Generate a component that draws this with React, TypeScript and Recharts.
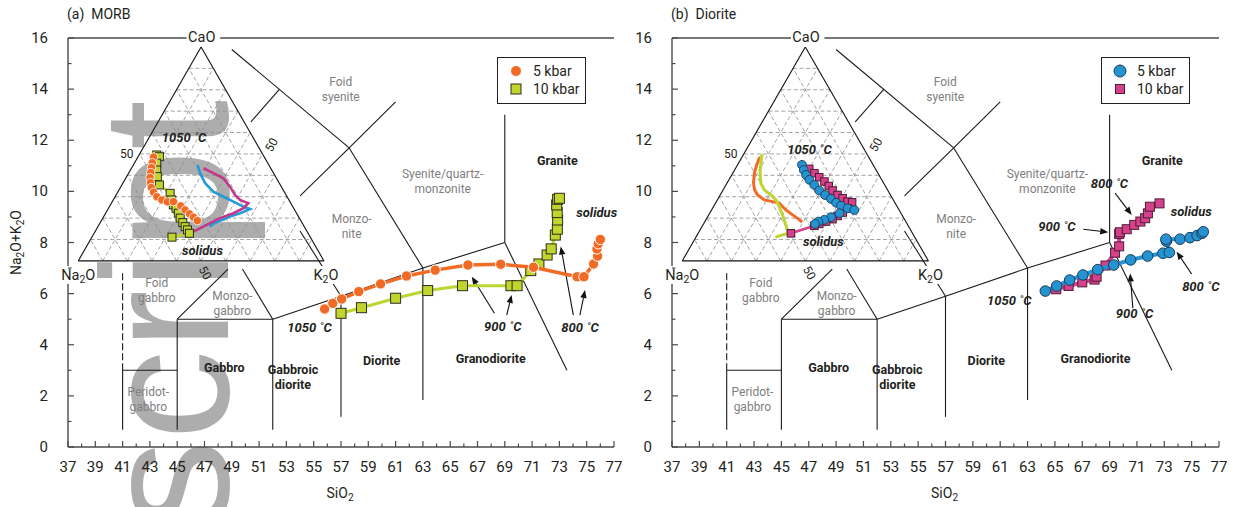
import React from "react";
import { ScatterChart, Scatter, XAxis, YAxis, ReferenceLine, ReferenceDot, Legend } from "recharts";

// ---------------- tick labels ----------------
const xTickLabels = [37, 39, 41, 43, 45, 47, 49, 51, 53, 55, 57, 59, 61, 63, 65, 67, 69, 71, 73, 75, 77];
const xMinorTicks = [38, 40, 42, 44, 46, 48, 50, 52, 54, 56, 58, 60, 62, 64, 66, 68, 70, 72, 74, 76];
const yTickLabels = [0, 2, 4, 6, 8, 10, 12, 14, 16];
const yMinorTicks = [1, 3, 5, 7, 9, 11, 13, 15];
const ternaryLevels = [10, 20, 30, 40, 50, 60, 70, 80, 90];

// ---------------- TAS (SiO2, Na2O+K2O) series ----------------
const morb5kbar = [
  { x: 55.8, y: 5.4 }, { x: 56.4, y: 5.62 }, { x: 57.05, y: 5.79 }, { x: 58.3, y: 6.08 },
  { x: 59.9, y: 6.38 }, { x: 61.8, y: 6.69 }, { x: 63.9, y: 6.92 }, { x: 66.3, y: 7.12 },
  { x: 68.7, y: 7.15 }, { x: 71.1, y: 7.03 }, { x: 74.3, y: 6.66 }, { x: 74.8, y: 6.66 },
  { x: 75.5, y: 7.16 }, { x: 75.8, y: 7.47 }, { x: 75.75, y: 7.75 }, { x: 75.85, y: 7.95 },
  { x: 76.0, y: 8.12 },
];
const morb10kbar = [
  { x: 57.0, y: 5.23 }, { x: 58.5, y: 5.45 }, { x: 61.0, y: 5.82 }, { x: 63.35, y: 6.12 },
  { x: 65.9, y: 6.31 }, { x: 69.45, y: 6.31 }, { x: 69.9, y: 6.31 }, { x: 70.9, y: 6.9 },
  { x: 71.5, y: 7.16 }, { x: 72.1, y: 7.51 }, { x: 72.4, y: 7.75 }, { x: 72.7, y: 8.29 },
  { x: 72.85, y: 8.52 }, { x: 72.87, y: 8.88 }, { x: 72.84, y: 9.17 }, { x: 72.8, y: 9.47 },
  { x: 72.87, y: 9.69 }, { x: 73.0, y: 9.73 },
];
const diorite5kbar = [
  { x: 64.3, y: 6.1 }, { x: 65.13, y: 6.3 }, { x: 66.08, y: 6.53 }, { x: 67.05, y: 6.73 },
  { x: 68.13, y: 6.94 }, { x: 69.3, y: 7.12 }, { x: 70.54, y: 7.32 }, { x: 71.78, y: 7.47 },
  { x: 72.9, y: 7.58 }, { x: 73.37, y: 7.61 }, { x: 73.15, y: 8.05 }, { x: 73.12, y: 8.13 },
  { x: 74.15, y: 8.13 }, { x: 74.88, y: 8.19 }, { x: 75.4, y: 8.27 }, { x: 75.76, y: 8.36 },
  { x: 75.85, y: 8.42 },
];
const diorite10kbar = [
  { x: 65.1, y: 6.17 }, { x: 66.0, y: 6.3 }, { x: 67.0, y: 6.44 }, { x: 67.9, y: 6.55 },
  { x: 68.05, y: 6.66 }, { x: 68.7, y: 7.1 }, { x: 69.4, y: 7.6 }, { x: 69.7, y: 7.85 },
  { x: 69.7, y: 8.33 }, { x: 69.75, y: 8.4 }, { x: 70.25, y: 8.52 }, { x: 70.8, y: 8.69 },
  { x: 71.25, y: 8.82 }, { x: 71.6, y: 8.95 }, { x: 71.8, y: 9.14 }, { x: 71.95, y: 9.4 },
  { x: 72.65, y: 9.53 },
];

// ---------------- ternary series: [CaO %, K2O %] ----------------
const morb5kbarTern = [
  [48.5, 6.4], [45.9, 7.2], [43.6, 8.0], [41.3, 8.9], [38.9, 9.8], [36.6, 11.1], [34.3, 12.6],
  [32.1, 14.6], [30.0, 17.0], [28.5, 19.8], [27.6, 22.5], [27.7, 24.9], [25.7, 28.9],
  [23.8, 31.6], [22.0, 34.3], [20.4, 36.7], [18.8, 39.1],
];
const morb10kbarTern = [
  [49.5, 7.2], [48.7, 8.7], [45.7, 9.1], [42.5, 10.7], [39.4, 12.5], [35.5, 15.3], [31.6, 21.6],
  [28.5, 23.8], [26.2, 25.6], [24.6, 27.5], [22.3, 29.6], [20.0, 31.5], [17.9, 33.6],
  [16.0, 35.5], [14.5, 37.2], [12.9, 38.8], [11.1, 32.6],
];
const diorite5kbarTern = [
  [44.9, 26.2], [42.5, 28.1], [40.2, 30.2], [37.9, 32.7], [35.5, 35.9], [32.9, 39.2],
  [30.8, 42.6], [29.0, 45.9], [27.2, 48.9], [25.8, 51.6], [24.6, 54.9], [23.8, 58.0],
  [22.3, 52.7], [20.4, 50.2], [19.2, 48.1], [18.4, 46.1], [17.3, 45.3],
];
const diorite10kbarTern = [
  [43.0, 30.1], [41.0, 33.2], [39.1, 36.1], [37.1, 39.2], [35.0, 42.0], [32.9, 44.6],
  [30.8, 47.7], [29.3, 50.5], [27.7, 53.3], [27.4, 55.3], [24.6, 54.9], [22.6, 53.9],
  [21.0, 52.6], [19.5, 51.3], [18.4, 49.2], [17.3, 47.0], [16.4, 45.5], [12.9, 37.7],
];
// comparison paths drawn as lines in the other panel's inset
const dioriteLine5Tern = [
  [44.9, 26.1], [41.0, 29.1], [36.3, 33.5], [32.4, 38.8], [30.0, 44.1], [27.7, 49.3],
  [25.4, 54.5], [24.2, 57.8], [22.3, 54.7], [20.7, 51.4], [18.8, 48.3], [17.3, 46.3], [16.0, 45.4],
];
const dioriteLine10Tern = [
  [43.3, 29.3], [41.0, 34.5], [38.6, 39.8], [34.7, 44.4], [30.8, 48.4], [28.5, 51.6],
  [27.0, 55.7], [24.6, 54.9], [22.3, 52.0], [20.0, 47.7], [16.8, 43.9], [13.7, 40.0], [12.9, 39.1],
];
const morbLine5Tern = [
  [48.7, 7.2], [44.9, 7.8], [41.0, 8.8], [36.3, 10.8], [33.2, 12.8], [30.8, 15.2], [28.5, 19.1],
  [27.7, 22.8], [27.0, 25.9], [23.8, 30.2], [21.5, 34.1], [19.2, 38.0], [18.1, 39.6],
];
const morbLine10Tern = [
  [50.0, 7.4], [45.7, 9.1], [41.0, 11.1], [36.3, 13.8], [33.2, 16.7], [30.8, 20.6],
  [28.5, 23.8], [25.4, 26.7], [21.5, 30.0], [16.8, 33.7], [12.9, 36.6], [11.1, 32.3],
];

// ---------------- TAS classification boundaries ----------------
const tasSolid = [
  [[41, 0.67], [41, 3]], [[41, 3], [45, 3]], [[45, 0.67], [45, 5]], [[45, 5], [52, 5]],
  [[52, 0.67], [52, 5]], [[45, 5], [48.72, 6.96]], [[52, 5], [49.78, 6.96]],
  [[52, 5], [57, 5.9]], [[57, 5.9], [63, 7]], [[63, 7], [69, 8]],
  [[57, 1.18], [57, 5.9]], [[63, 1.84], [63, 7]], [[54.0, 8.45], [57, 5.9]],
  [[54.0, 9.82], [57.6, 11.7]], [[50.4, 12.72], [52.5, 14]], [[49.0, 15.55], [57.6, 11.7]],
  [[57.6, 11.7], [63, 7]], [[57.6, 11.7], [61, 13.5]], [[69, 8], [69, 13]], [[69, 8], [73.55, 3.0]],
];
const tasDashed = [[[41, 3], [41, 6.9]]];

const fieldLabels = [
  { x: 56.98, y: 14.0, lines: ["Foid", "syenite"], bold: false },
  { x: 64.45, y: 10.4, lines: ["Syenite/quartz-", "monzonite"], bold: false },
  { x: 57.78, y: 8.62, lines: ["Monzo-", "nite"], bold: false },
  { x: 72.85, y: 11.23, lines: ["Granite"], bold: true },
  { x: 43.5, y: 6.11, lines: ["Foid", "gabbro"], bold: false },
  { x: 49.04, y: 5.6, lines: ["Monzo-", "gabbro"], bold: false },
  { x: 48.45, y: 3.12, lines: ["Gabbro"], bold: true },
  { x: 53.48, y: 2.74, lines: ["Gabbroic", "diorite"], bold: true },
  { x: 42.88, y: 1.86, lines: ["Peridot-", "gabbro"], bold: false },
  { x: 59.98, y: 3.4, lines: ["Diorite"], bold: true },
  { x: 67.97, y: 3.47, lines: ["Granodiorite"], bold: true },
];

const morbNotes = [
  { x: 45.5, y: 12.13, t: "1050 ˚C" }, { x: 46.85, y: 7.71, t: "solidus" },
  { x: 54.69, y: 4.69, t: "1050 ˚C" }, { x: 68.85, y: 4.73, t: "900 ˚C" },
  { x: 74.51, y: 4.69, t: "800 ˚C" }, { x: 75.73, y: 9.21, t: "solidus" },
];
const morbArrows = [
  [[68.24, 5.23], [66.58, 6.66]], [[69.14, 5.16], [69.5, 5.95]],
  [[74.02, 5.16], [73.1, 7.84]], [[74.5, 5.16], [74.88, 6.14]],
];
const dioriteNotes = [
  { x: 47.05, y: 11.66, t: "1050 ˚C" }, { x: 48.07, y: 8.07, t: "solidus" },
  { x: 68.99, y: 10.32, t: "800 ˚C" }, { x: 65.15, y: 8.65, t: "900 ˚C" },
  { x: 74.97, y: 9.24, t: "solidus" }, { x: 61.66, y: 5.75, t: "1050 ˚C" },
  { x: 70.82, y: 5.23, t: "900 ˚C" }, { x: 75.67, y: 6.3, t: "800 ˚C" },
];
const dioriteArrows = [
  [[69.4, 9.93], [70.62, 9.08]], [[67.08, 8.52], [68.9, 8.4]],
  [[70.7, 5.43], [70.5, 6.79]], [[75.0, 6.77], [73.9, 7.64]],
];

// ---------------- layout / style ----------------
const FONT = "Roboto, 'Noto Sans', sans-serif";
const AX = "#4a4a4a";
const TXT = "#231f20";
const GRAY = "#808080";
const ORANGE = "#f26b25";
const LIME = "#c2d52f";
const BLUE = "#2592d1";
const PINK = "#d6418b";
// inset triangle corners in chart coordinates
const TL = { x: 37.75, y: 7.28 };
const TR = { x: 55.75, y: 7.28 };
const TA = { x: 46.75, y: 15.65 };

const tern = (ca: number, k: number) => {
  const c = ca / 100, kk = k / 100, na = 1 - c - kk;
  return { x: TL.x * na + TA.x * c + TR.x * kk, y: TL.y * na + TA.y * c + TR.y * kk };
};
const ternPts = (arr: number[][]) => arr.map(([c, k]) => tern(c, k));

const gridSegs: { x: number; y: number }[][] = [];
ternaryLevels.forEach((l) => {
  gridSegs.push([tern(l, 0), tern(l, 100 - l)]);
  gridSegs.push([tern(0, l), tern(100 - l, l)]);
  gridSegs.push([tern(0, 100 - l), tern(100 - l, 0)]);
});

const allX = [...xTickLabels, ...xMinorTicks].sort((a, b) => a - b);
const allY = [...yTickLabels, ...yMinorTicks].sort((a, b) => a - b);

const BottomTick = (p: any) => {
  const v = p.payload.value;
  const major = xTickLabels.includes(v);
  return (
    <g>
      <line x1={p.x} x2={p.x} y1={p.y} y2={p.y - (major ? 6 : 3.5)} stroke={AX} strokeWidth={1.2} />
      {major && (
        <text x={p.x} y={p.y + 20} textAnchor="middle" dominantBaseline="central" fontFamily={FONT} fontSize={15} fill={TXT}>
          {v}
        </text>
      )}
    </g>
  );
};
const TopTick = (p: any) => {
  const v = p.payload.value;
  const major = xTickLabels.includes(v);
  return <line x1={p.x} x2={p.x} y1={p.y} y2={p.y + (major ? 6 : 3.5)} stroke={AX} strokeWidth={1.2} />;
};
const LeftTick = (p: any) => {
  const v = p.payload.value;
  const major = yTickLabels.includes(v);
  return (
    <g>
      <line x1={p.x} x2={p.x + (major ? 6 : 3.5)} y1={p.y} y2={p.y} stroke={AX} strokeWidth={1.2} />
      {major && (
        <text x={p.x - 20} y={p.y} textAnchor="end" dominantBaseline="central" fontFamily={FONT} fontSize={15} fill={TXT}>
          {v}
        </text>
      )}
    </g>
  );
};
const RightTick = (p: any) => {
  const v = p.payload.value;
  const major = yTickLabels.includes(v);
  return <line x1={p.x} x2={p.x - (major ? 6 : 3.5)} y1={p.y} y2={p.y} stroke={AX} strokeWidth={1.2} />;
};

const circleShape = (r: number, fill: string, stroke: string, sw: number) => (p: any) =>
  <circle cx={p.cx} cy={p.cy} r={r} fill={fill} stroke={stroke} strokeWidth={sw} />;
const squareShape = (s: number, fill: string, stroke: string) => (p: any) =>
  <rect x={p.cx - s / 2} y={p.cy - s / 2} width={s} height={s} fill={fill} stroke={stroke} strokeWidth={1} />;
const noShape = () => <g />;

const arrowShape = (p: any) => {
  const { x1, y1, x2, y2 } = p;
  const dx = x2 - x1, dy = y2 - y1, len = Math.hypot(dx, dy) || 1;
  const ux = dx / len, uy = dy / len, hl = 8, hw = 3.2;
  const bx = x2 - ux * hl, by = y2 - uy * hl;
  return (
    <g>
      <line x1={x1} y1={y1} x2={bx} y2={by} stroke="#111" strokeWidth={1.1} />
      <polygon points={`${x2},${y2} ${bx - uy * hw},${by + ux * hw} ${bx + uy * hw},${by - ux * hw}`} fill="#111" />
    </g>
  );
};

const textShape = (lines: string[], o: any) => (p: any) => {
  const lh = o.lh || 15;
  const start = -((lines.length - 1) / 2) * lh;
  return (
    <text x={p.cx} y={p.cy} textAnchor={o.anchor || "middle"} dominantBaseline="central" fontFamily={FONT}
      fontSize={o.size || 12} fontWeight={o.bold ? 700 : 400} fontStyle={o.italic ? "italic" : "normal"}
      fill={o.fill || TXT} transform={o.rot ? `rotate(${o.rot} ${p.cx} ${p.cy})` : undefined}>
      {lines.map((l, i) => (
        <tspan key={i} x={p.cx} dy={i === 0 ? start : lh}>{l}</tspan>
      ))}
    </text>
  );
};

const subLabel = (parts: [string, boolean][], o: any) => (p: any) => {
  const w = o.w || 0;
  return (
    <g transform={o.rot ? `rotate(${o.rot} ${p.cx} ${p.cy})` : undefined}>
      {o.bg && <rect x={p.cx - w / 2} y={p.cy - 9} width={w} height={18} fill="#fff" />}
      <text x={p.cx} y={p.cy} textAnchor="middle" dominantBaseline="central" fontFamily={FONT} fontSize={o.size || 14} fill={TXT}>
        {parts.map(([s, sub], i) => (
          <tspan key={i} fontSize={sub ? (o.size || 14) * 0.72 : undefined} dy={sub ? 4 : i > 0 && parts[i - 1][1] ? -4 : 0}>{s}</tspan>
        ))}
      </text>
    </g>
  );
};

type PanelProps = {
  left: number; width: number; marginRight: number; title: string; yLabel: boolean;
  main10: any[]; main5: any[]; tern10: any[]; tern5: any[]; cmpA: any[]; cmpB: any[];
  kind: "morb" | "diorite"; notes: any[]; arrows: number[][][];
};

function LegendBox({ kind }: { kind: "morb" | "diorite" }) {
  const isM = kind === "morb";
  return (
    <div style={{ position: "relative", width: 89, height: 47, border: `1.3px solid ${TXT}`, boxSizing: "border-box", background: "#fff", fontFamily: FONT, fontSize: 14, color: TXT }}>
      <svg width={30} height={45} style={{ position: "absolute", left: 0, top: 0 }}>
        {isM ? <circle cx={18} cy={13} r={5.5} fill={ORANGE} stroke="#fff" strokeWidth={1} /> : <circle cx={18} cy={13} r={6} fill={BLUE} stroke="#1d3b57" strokeWidth={1} />}
        {isM ? <rect x={13} y={26} width={10} height={10} fill={LIME} stroke="#2d2d1a" strokeWidth={1} /> : <rect x={13.5} y={26.5} width={9} height={9} fill={PINK} stroke="#4b1d35" strokeWidth={1} />}
      </svg>
      <div style={{ position: "absolute", left: 35, top: 4, lineHeight: "18px", whiteSpace: "nowrap" }}>5 kbar</div>
      <div style={{ position: "absolute", left: 35, top: 22, lineHeight: "18px", whiteSpace: "nowrap" }}>10 kbar</div>
    </div>
  );
}

function Panel(pp: PanelProps) {
  const isM = pp.kind === "morb";
  const c5 = isM ? ORANGE : BLUE;
  const c10 = isM ? LIME : PINK;
  const s5 = isM ? circleShape(5.2, ORANGE, "#fff", 1) : circleShape(5.3, BLUE, "#1d3b57", 1);
  const s10 = isM ? squareShape(10, LIME, "#2d2d1a") : squareShape(9, PINK, "#4b1d35");
  const t5 = isM ? circleShape(4.2, ORANGE, "#fff", 0.8) : circleShape(4.4, BLUE, "#1d3b57", 0.9);
  const t10 = isM ? squareShape(8, LIME, "#2d2d1a") : squareShape(7.5, PINK, "#4b1d35");
  const cmpAcol = isM ? "#259ad8" : ORANGE;
  const cmpBcol = isM ? "#c2378a" : "#bcd531";
  return (
    <div style={{ position: "absolute", left: pp.left, top: 0 }}>
      <ScatterChart width={pp.width} height={507} margin={{ top: 38, right: pp.marginRight, bottom: 0, left: 0 }}>
        <XAxis xAxisId={0} type="number" dataKey="x" domain={[37, 77]} ticks={allX} interval={0} tickSize={0} tickMargin={0}
          height={60} tick={BottomTick} tickLine={false} axisLine={{ stroke: AX, strokeWidth: 1.4 }} />
        <XAxis xAxisId="t" orientation="top" type="number" domain={[37, 77]} ticks={allX} interval={0} tickSize={0} tickMargin={0}
          height={0} tick={TopTick} tickLine={false} axisLine={false} />
        <YAxis yAxisId={0} type="number" dataKey="y" domain={[0, 16]} ticks={allY} interval={0} tickSize={0} tickMargin={0}
          width={68} tick={LeftTick} tickLine={false} axisLine={{ stroke: AX, strokeWidth: 1.4 }} />
        <YAxis yAxisId="r" orientation="right" type="number" domain={[0, 16]} ticks={allY} interval={0} tickSize={0} tickMargin={0}
          width={0} tick={RightTick} tickLine={false} axisLine={{ stroke: AX, strokeWidth: 1.4 }} />

        {/* top border, broken for CaO label */}
        <ReferenceLine segment={[{ x: 37, y: 16 }, { x: 45.7, y: 16 }]} stroke={AX} strokeWidth={1.4} ifOverflow="visible" />
        <ReferenceLine segment={[{ x: 48.15, y: 16 }, { x: 77, y: 16 }]} stroke={AX} strokeWidth={1.4} ifOverflow="visible" />

        {tasSolid.map((s, i) => (
          <ReferenceLine key={"tas" + i} segment={[{ x: s[0][0], y: s[0][1] }, { x: s[1][0], y: s[1][1] }]} stroke="#1a1a1a" strokeWidth={1.1} ifOverflow="visible" />
        ))}
        {tasDashed.map((s, i) => (
          <ReferenceLine key={"tasd" + i} segment={[{ x: s[0][0], y: s[0][1] }, { x: s[1][0], y: s[1][1] }]} stroke="#1a1a1a" strokeWidth={1.1} strokeDasharray="7 3" ifOverflow="visible" />
        ))}

        {gridSegs.map((s, i) => (
          <ReferenceLine key={"g" + i} segment={s} stroke="#8c8c8c" strokeWidth={0.8} strokeDasharray="4 2.5" ifOverflow="visible" />
        ))}
        <ReferenceLine segment={[TL, TR]} stroke="#111" strokeWidth={1.1} ifOverflow="visible" />
        <ReferenceLine segment={[TL, TA]} stroke="#111" strokeWidth={1.1} ifOverflow="visible" />
        <ReferenceLine segment={[TA, TR]} stroke="#111" strokeWidth={1.1} ifOverflow="visible" />

        {fieldLabels.map((f, i) => (
          <ReferenceDot key={"f" + i} x={f.x} y={f.y} r={0} ifOverflow="visible"
            shape={textShape(f.lines, { size: f.bold ? 12.5 : 12, bold: f.bold, fill: f.bold ? TXT : GRAY })} />
        ))}

        {/* inset comparison paths */}
        <Scatter data={ternPts(pp.cmpA)} isAnimationActive={false} line={{ stroke: cmpAcol, strokeWidth: isM ? 2.6 : 3 }} shape={noShape} />
        <Scatter data={ternPts(pp.cmpB)} isAnimationActive={false} line={{ stroke: cmpBcol, strokeWidth: isM ? 2.6 : 3 }} shape={noShape} />
        {/* inset own results */}
        <Scatter data={ternPts(pp.tern10)} isAnimationActive={false} line={{ stroke: c10, strokeWidth: 2.5 }} shape={t10} />
        <Scatter data={ternPts(pp.tern5)} isAnimationActive={false} line={{ stroke: c5, strokeWidth: 2.5 }} shape={t5} />
        {/* TAS results */}
        <Scatter data={pp.main10} isAnimationActive={false} line={{ stroke: isM ? "#bcd531" : PINK, strokeWidth: isM ? 3 : 4 }} shape={s10} />
        <Scatter data={pp.main5} isAnimationActive={false} line={{ stroke: c5, strokeWidth: isM ? 3.5 : 4 }} shape={s5} />

        {/* inset labels */}
        <ReferenceDot x={46.8} y={16.05} r={0} ifOverflow="visible" shape={subLabel([["CaO", false]], { size: 14.5, bg: true, w: 30 })} />
        <ReferenceDot x={37.75} y={6.73} r={0} ifOverflow="visible" shape={subLabel([["Na", false], ["2", true], ["O", false]], { size: 14.5, bg: true, w: 36 })} />
        <ReferenceDot x={55.9} y={6.73} r={0} ifOverflow="visible" shape={subLabel([["K", false], ["2", true], ["O", false]], { size: 14.5, bg: true, w: 28 })} />
        <ReferenceDot x={41.3} y={11.46} r={0} ifOverflow="visible" shape={textShape(["50"], { size: 12 })} />
        <ReferenceDot x={51.92} y={11.82} r={0} ifOverflow="visible" shape={textShape(["50"], { size: 12, rot: -60 })} />
        <ReferenceDot x={47.04} y={6.81} r={0} ifOverflow="visible" shape={textShape(["50"], { size: 12, rot: 60 })} />

        {pp.notes.map((n, i) => (
          <ReferenceDot key={"n" + i} x={n.x} y={n.y} r={0} ifOverflow="visible" shape={textShape([n.t], { size: 13, bold: true, italic: true })} />
        ))}
        {pp.arrows.map((a, i) => (
          <ReferenceLine key={"a" + i} segment={[{ x: a[0][0], y: a[0][1] }, { x: a[1][0], y: a[1][1] }]} ifOverflow="visible" shape={arrowShape} />
        ))}

        {/* titles */}
        <ReferenceDot x={36.93} y={16.94} r={0} ifOverflow="visible" shape={textShape([pp.title], { size: 14, anchor: "start" })} />
        <ReferenceDot x={56.93} y={-1.8} r={0} ifOverflow="visible" shape={subLabel([["SiO", false], ["2", true]], { size: 14 })} />
        {pp.yLabel && (
          <ReferenceDot x={33.2} y={8.0} r={0} ifOverflow="visible"
            shape={subLabel([["Na", false], ["2", true], ["O+K", false], ["2", true], ["O", false]], { size: 14, rot: -90 })} />
        )}

        <Legend layout="vertical" align="center" verticalAlign="middle"
          wrapperStyle={{ position: "absolute", left: 497, top: 57, width: 89, height: 47 }}
          content={() => <LegendBox kind={pp.kind} />} />
      </ScatterChart>
    </div>
  );
}

export default function App() {
  return (
    <div style={{ position: "absolute", left: 0, top: 0, width: 1238, height: 507, background: "#fff", overflow: "hidden" }}>
      <svg width={1238} height={507} style={{ position: "absolute", left: 0, top: 0 }}>
        <text transform="translate(228 530) rotate(-90)" fontFamily="'Liberation Sans', Arial, sans-serif" fontSize={180} fill="#adadad">
          script
        </text>
      </svg>
      <Panel left={0} width={640} marginRight={26} title={"(a)\u00a0 MORB"} kind="morb" yLabel={true}
        main10={morb10kbar} main5={morb5kbar} tern10={morb10kbarTern} tern5={morb5kbarTern}
        cmpA={dioriteLine5Tern} cmpB={dioriteLine10Tern} notes={morbNotes} arrows={morbArrows} />
      <Panel left={604} width={634} marginRight={19} title={"(b)\u00a0 Diorite"} kind="diorite" yLabel={false}
        main10={diorite10kbar} main5={diorite5kbar} tern10={diorite10kbarTern} tern5={diorite5kbarTern}
        cmpA={morbLine5Tern} cmpB={morbLine10Tern} notes={dioriteNotes} arrows={dioriteArrows} />
    </div>
  );
}
